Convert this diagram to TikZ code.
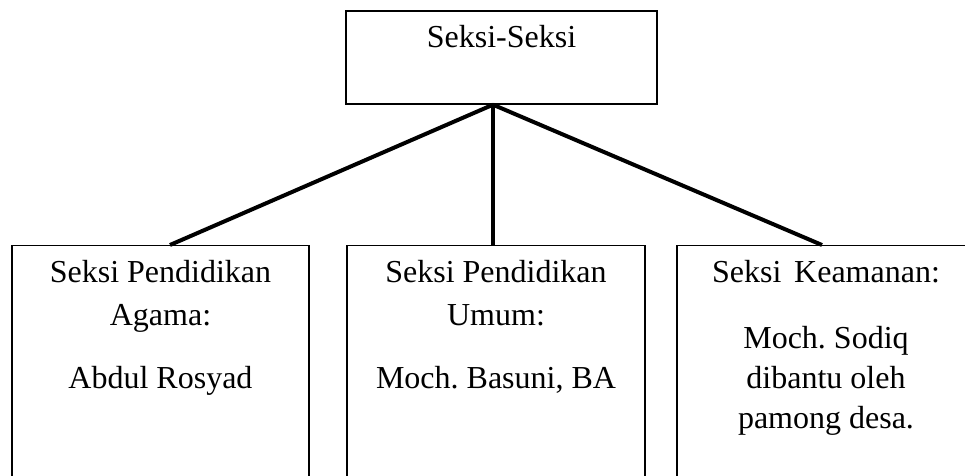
\documentclass[tikz,border=0pt]{standalone}
\usepackage{fontspec}
\setmainfont{Liberation Serif}
\frenchspacing
\begin{document}
\begin{tikzpicture}[x=0.5pt,y=-0.5pt,
  box/.style={draw=black,line width=0.7pt,fill=white,inner sep=0pt},
  txt/.style={anchor=base,inner sep=0pt,font=\fontsize{16}{19}\selectfont},
  link/.style={line width=2pt,line cap=butt}]
  \useasboundingbox (0,0) rectangle (965,476);
  \clip (0,0) rectangle (965,476);

  % organisation boxes
  \node[box,minimum width=155.5pt,minimum height=46.5pt] (top) at (501.5,57.5) {};
  \node[box,minimum width=148.5pt,minimum height=127.5pt,anchor=north] (agama) at (160.5,245) {};
  \node[box,minimum width=149pt,minimum height=127.5pt,anchor=north] (umum) at (496,245) {};
  \node[box,minimum width=149pt,minimum height=127.5pt,anchor=north] (aman) at (826,245) {};

  % connectors from the head box
  \coordinate (apex) at ([xshift=-4.25pt]top.south);
  \draw[link] (apex) -- ([xshift=4.75pt]agama.north);
  \draw[link] (apex) -- ([xshift=-1.5pt]umum.north);
  \draw[link] (apex) -- ([xshift=-2pt]aman.north);

  % labels
  \node[txt] (t0) at (501.5,48) {Seksi-Seksi};

  \node[txt] (a1) at (160.5,283) {Seksi Pendidikan};
  \node[txt] (a2) at (160.5,325) {Agama:};
  \node[txt] (a3) at (160.5,388) {Abdul Rosyad};

  \node[txt] (u1) at (496,283) {Seksi Pendidikan};
  \node[txt] (u2) at (496,325) {Umum:};
  \node[txt] (u3) at (496,388) {Moch. Basuni, BA};

  \node[txt] (k1) at (826,283) {Seksi\hspace{0.4em}Keamanan:};
  \node[txt] (k2) at (826,348) {Moch. Sodiq};
  \node[txt] (k3) at (826,388) {dibantu oleh};
  \node[txt] (k4) at (826,428) {pamong desa.};
\end{tikzpicture}
\end{document}
